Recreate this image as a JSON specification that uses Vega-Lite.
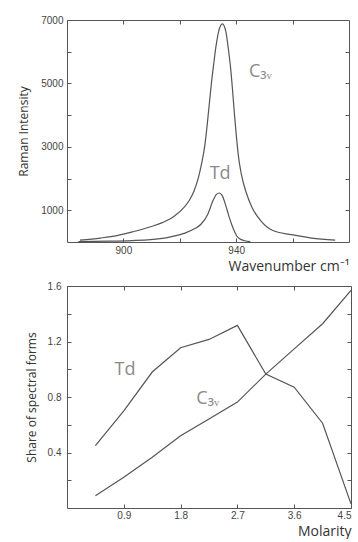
{
  "$schema": "https://vega.github.io/schema/vega-lite/v6.json",
  "background": "white",
  "padding": {"left": 17, "top": 14, "right": 4, "bottom": 0},
  "spacing": 6,
  "config": {
    "view": {"stroke": "#555", "strokeWidth": 1},
    "axis": {
      "domain": false,
      "grid": false,
      "tickSize": -4,
      "tickWidth": 1,
      "tickColor": "#555",
      "labelFont": "Liberation Sans",
      "labelFontSize": 10,
      "labelColor": "#444",
      "titleFont": "Open Sans",
      "titleFontWeight": "normal",
      "titleColor": "#333"
    },
    "text": {"font": "Open Sans", "color": "#8a8a8a", "fontSize": 18}
  },
  "datasets": {
    "spectra": [
      {"wn": 884.6, "I": 60, "form": "C3v"},
      {"wn": 891.8, "I": 125, "form": "C3v"},
      {"wn": 897.7, "I": 200, "form": "C3v"},
      {"wn": 903.7, "I": 330, "form": "C3v"},
      {"wn": 909.6, "I": 480, "form": "C3v"},
      {"wn": 913.8, "I": 610, "form": "C3v"},
      {"wn": 918.0, "I": 810, "form": "C3v"},
      {"wn": 921.5, "I": 1090, "form": "C3v"},
      {"wn": 923.5, "I": 1330, "form": "C3v"},
      {"wn": 925.0, "I": 1600, "form": "C3v"},
      {"wn": 926.5, "I": 2000, "form": "C3v"},
      {"wn": 927.8, "I": 2500, "form": "C3v"},
      {"wn": 928.8, "I": 3000, "form": "C3v"},
      {"wn": 929.6, "I": 3600, "form": "C3v"},
      {"wn": 930.4, "I": 4300, "form": "C3v"},
      {"wn": 931.2, "I": 5000, "form": "C3v"},
      {"wn": 932.0, "I": 5600, "form": "C3v"},
      {"wn": 932.8, "I": 6150, "form": "C3v"},
      {"wn": 933.8, "I": 6650, "form": "C3v"},
      {"wn": 935.1, "I": 6880, "form": "C3v"},
      {"wn": 936.3, "I": 6650, "form": "C3v"},
      {"wn": 937.2, "I": 6100, "form": "C3v"},
      {"wn": 938.0, "I": 5500, "form": "C3v"},
      {"wn": 938.7, "I": 4800, "form": "C3v"},
      {"wn": 939.4, "I": 4000, "form": "C3v"},
      {"wn": 940.1, "I": 3300, "form": "C3v"},
      {"wn": 940.8, "I": 2700, "form": "C3v"},
      {"wn": 941.8, "I": 2150, "form": "C3v"},
      {"wn": 943.4, "I": 1600, "form": "C3v"},
      {"wn": 945.7, "I": 1073, "form": "C3v"},
      {"wn": 948.9, "I": 653, "form": "C3v"},
      {"wn": 952.8, "I": 370, "form": "C3v"},
      {"wn": 959.6, "I": 230, "form": "C3v"},
      {"wn": 966.8, "I": 125, "form": "C3v"},
      {"wn": 975.1, "I": 60, "form": "C3v"},
      {"wn": 884.0, "I": 10, "form": "Td"},
      {"wn": 895.0, "I": 25, "form": "Td"},
      {"wn": 903.0, "I": 45, "form": "Td"},
      {"wn": 909.6, "I": 75, "form": "Td"},
      {"wn": 915.6, "I": 140, "form": "Td"},
      {"wn": 921.5, "I": 270, "form": "Td"},
      {"wn": 925.5, "I": 430, "form": "Td"},
      {"wn": 927.5, "I": 560, "form": "Td"},
      {"wn": 929.9, "I": 870, "form": "Td"},
      {"wn": 931.7, "I": 1290, "form": "Td"},
      {"wn": 933.0, "I": 1500, "form": "Td"},
      {"wn": 934.0, "I": 1545, "form": "Td"},
      {"wn": 935.0, "I": 1470, "form": "Td"},
      {"wn": 935.8, "I": 1290, "form": "Td"},
      {"wn": 936.8, "I": 1000, "form": "Td"},
      {"wn": 937.6, "I": 760, "form": "Td"},
      {"wn": 938.5, "I": 530, "form": "Td"},
      {"wn": 939.4, "I": 330, "form": "Td"},
      {"wn": 940.2, "I": 190, "form": "Td"},
      {"wn": 941.2, "I": 100, "form": "Td"},
      {"wn": 943.0, "I": 40, "form": "Td"},
      {"wn": 945.0, "I": 10, "form": "Td"}
    ],
    "topLabels": [
      {"wn": 948.6, "I": 5373, "label": "C₃ᵥ"},
      {"wn": 934.3, "I": 2148, "label": "Td"}
    ],
    "shares": [
      {"M": 0.45, "share": 0.45, "form": "Td"},
      {"M": 0.9, "share": 0.7, "form": "Td"},
      {"M": 1.35, "share": 0.98, "form": "Td"},
      {"M": 1.8, "share": 1.155, "form": "Td"},
      {"M": 2.25, "share": 1.215, "form": "Td"},
      {"M": 2.7, "share": 1.316, "form": "Td"},
      {"M": 3.15, "share": 0.965, "form": "Td"},
      {"M": 3.6, "share": 0.871, "form": "Td"},
      {"M": 4.05, "share": 0.611, "form": "Td"},
      {"M": 4.5, "share": 0.03, "form": "Td"},
      {"M": 0.45, "share": 0.089, "form": "C3v"},
      {"M": 0.9, "share": 0.221, "form": "C3v"},
      {"M": 1.35, "share": 0.366, "form": "C3v"},
      {"M": 1.8, "share": 0.52, "form": "C3v"},
      {"M": 2.25, "share": 0.642, "form": "C3v"},
      {"M": 2.7, "share": 0.763, "form": "C3v"},
      {"M": 3.15, "share": 0.965, "form": "C3v"},
      {"M": 3.6, "share": 1.147, "form": "C3v"},
      {"M": 4.05, "share": 1.328, "form": "C3v"},
      {"M": 4.5, "share": 1.568, "form": "C3v"}
    ],
    "bottomLabels": [
      {"M": 0.92, "share": 0.998, "label": "Td"},
      {"M": 2.23, "share": 0.786, "label": "C₃ᵥ"}
    ]
  },
  "vconcat": [
    {
      "width": 282,
      "height": 222,
      "layer": [
        {
          "data": {"name": "spectra"},
          "mark": {"type": "line", "color": "#555", "strokeWidth": 1.2, "interpolate": "monotone"},
          "encoding": {
            "x": {
              "field": "wn", "type": "quantitative",
              "scale": {"domain": [880, 980], "nice": false, "zero": false},
              "axis": {
                "orient": "bottom",
                "values": [900, 920, 940, 960],
                "labelExpr": "datum.value % 40 == 20 ? datum.label : ''",
                "format": "d",
                "labelPadding": 7,
                "title": "Wavenumber cm⁻¹",
                "titleFontSize": 14,
                "titleAnchor": "end",
                "titlePadding": 4
              }
            },
            "y": {
              "field": "I", "type": "quantitative",
              "scale": {"domain": [0, 7000], "nice": false},
              "axis": {
                "orient": "left",
                "values": [1000, 2000, 3000, 4000, 5000, 6000, 7000],
                "labelExpr": "datum.value % 2000 == 1000 ? datum.label : ''",
                "format": "d",
                "labelPadding": 8,
                "title": "Raman Intensity",
                "titleFontSize": 12,
                "titlePadding": 10
              }
            },
            "detail": {"field": "form"}
          }
        },
        {
          "data": {"name": "topLabels"},
          "mark": {"type": "text"},
          "encoding": {
            "x": {
              "field": "wn", "type": "quantitative",
              "scale": {"domain": [880, 980], "nice": false, "zero": false},
              "axis": {"orient": "top", "values": [900, 920, 940, 960], "labels": false, "title": null}
            },
            "y": {
              "field": "I", "type": "quantitative",
              "scale": {"domain": [0, 7000], "nice": false},
              "axis": {"orient": "right", "values": [1000, 2000, 3000, 4000, 5000, 6000], "labels": false, "title": null}
            },
            "text": {"field": "label"}
          }
        }
      ],
      "resolve": {"axis": {"x": "independent", "y": "independent"}}
    },
    {
      "width": 284,
      "height": 222,
      "layer": [
        {
          "data": {"name": "shares"},
          "mark": {"type": "line", "color": "#555", "strokeWidth": 1.2},
          "encoding": {
            "x": {
              "field": "M", "type": "quantitative",
              "scale": {"domain": [0, 4.5], "nice": false},
              "axis": {
                "orient": "bottom",
                "values": [0.9, 1.8, 2.7, 3.6, 4.5],
                "format": ".1f",
                "labelPadding": 6,
                "title": "Molarity",
                "titleFontSize": 14,
                "titleAnchor": "end",
                "titlePadding": 4
              }
            },
            "y": {
              "field": "share", "type": "quantitative",
              "scale": {"domain": [0, 1.6], "nice": false},
              "axis": {
                "orient": "left",
                "values": [0.2, 0.4, 0.6, 0.8, 1.0, 1.2, 1.4, 1.6],
                "labelExpr": "round(datum.value * 10) % 4 == 0 ? datum.label : ''",
                "format": ".1f",
                "labelPadding": 10,
                "title": "Share of spectral forms",
                "titleFontSize": 12,
                "titlePadding": 9
              }
            },
            "detail": {"field": "form"}
          }
        },
        {
          "data": {"name": "bottomLabels"},
          "mark": {"type": "text"},
          "encoding": {
            "x": {
              "field": "M", "type": "quantitative",
              "scale": {"domain": [0, 4.5], "nice": false},
              "axis": {"orient": "top", "values": [0.9, 1.8, 2.7, 3.6], "labels": false, "title": null}
            },
            "y": {
              "field": "share", "type": "quantitative",
              "scale": {"domain": [0, 1.6], "nice": false},
              "axis": {"orient": "right", "values": [0.2, 0.4, 0.6, 0.8, 1.0, 1.2, 1.4], "labels": false, "title": null}
            },
            "text": {"field": "label"}
          }
        }
      ],
      "resolve": {"axis": {"x": "independent", "y": "independent"}}
    }
  ]
}
